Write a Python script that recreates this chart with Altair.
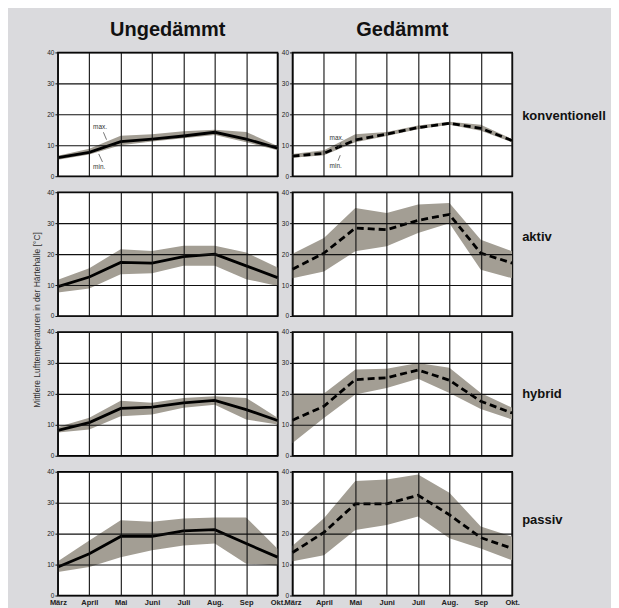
import altair as alt
import pandas as pd

months = ["März", "April", "Mai", "Juni", "Juli", "Aug.", "Sep", "Okt."]
daemmung = ["Ungedämmt", "Gedämmt"]
systeme = ["konventionell", "aktiv", "hybrid", "passiv"]

# mean / min / max per panel (°C)
u_konv_mean = [6.0, 7.7, 11.2, 12.0, 13.0, 14.2, 12.0, 9.1]
u_konv_lo = [5.3, 7.0, 10.0, 11.2, 12.3, 13.3, 11.0, 8.4]
u_konv_hi = [6.6, 8.9, 13.1, 13.6, 14.5, 15.0, 14.3, 9.8]

g_konv_mean = [6.5, 7.4, 11.7, 13.6, 15.7, 17.1, 15.5, 11.5]
g_konv_lo = [6.0, 6.8, 11.0, 13.0, 15.2, 16.6, 14.7, 11.0]
g_konv_hi = [7.2, 8.4, 13.6, 14.3, 16.4, 17.6, 16.6, 12.0]

u_aktiv_mean = [9.5, 12.6, 17.3, 17.1, 19.2, 20.0, 16.2, 12.4]
u_aktiv_lo = [7.6, 8.9, 13.5, 13.8, 16.2, 16.2, 11.9, 9.7]
u_aktiv_hi = [11.7, 15.4, 21.6, 21.0, 22.7, 22.7, 20.5, 15.7]

g_aktiv_mean = [15.1, 20.3, 28.4, 27.9, 30.9, 32.8, 20.3, 17.1]
g_aktiv_lo = [12.2, 14.4, 20.9, 22.5, 26.8, 30.0, 14.9, 12.2]
g_aktiv_hi = [20.1, 25.2, 34.9, 33.3, 36.0, 36.5, 24.6, 20.9]

u_hybrid_mean = [8.2, 10.7, 15.3, 15.7, 17.1, 17.9, 14.9, 11.4]
u_hybrid_lo = [7.5, 8.5, 12.8, 13.3, 15.5, 16.5, 11.7, 10.1]
u_hybrid_hi = [9.3, 12.3, 17.8, 17.1, 18.7, 19.2, 18.7, 12.3]

g_hybrid_mean = [11.5, 16.0, 24.6, 25.2, 27.7, 24.4, 17.6, 13.8]
g_hybrid_lo = [4.1, 12.2, 19.8, 21.9, 24.9, 20.3, 15.1, 11.7]
g_hybrid_hi = [20.1, 20.1, 27.9, 28.1, 30.0, 28.4, 20.3, 15.5]

u_passiv_mean = [9.2, 13.5, 19.1, 19.1, 20.9, 21.3, 16.8, 12.4]
u_passiv_lo = [7.6, 9.2, 12.4, 14.6, 16.2, 16.8, 10.3, 9.7]
u_passiv_hi = [11.1, 17.8, 24.3, 23.8, 24.9, 25.2, 25.2, 15.1]

g_passiv_mean = [13.9, 20.4, 29.6, 29.6, 32.4, 26.1, 18.7, 15.2]
g_passiv_lo = [11.1, 13.0, 21.2, 22.8, 25.5, 18.5, 15.2, 11.4]
g_passiv_hi = [16.1, 25.0, 37.0, 37.5, 39.1, 33.2, 22.3, 19.0]

series = {
    ("Ungedämmt", "konventionell"): (u_konv_mean, u_konv_lo, u_konv_hi),
    ("Gedämmt", "konventionell"): (g_konv_mean, g_konv_lo, g_konv_hi),
    ("Ungedämmt", "aktiv"): (u_aktiv_mean, u_aktiv_lo, u_aktiv_hi),
    ("Gedämmt", "aktiv"): (g_aktiv_mean, g_aktiv_lo, g_aktiv_hi),
    ("Ungedämmt", "hybrid"): (u_hybrid_mean, u_hybrid_lo, u_hybrid_hi),
    ("Gedämmt", "hybrid"): (g_hybrid_mean, g_hybrid_lo, g_hybrid_hi),
    ("Ungedämmt", "passiv"): (u_passiv_mean, u_passiv_lo, u_passiv_hi),
    ("Gedämmt", "passiv"): (g_passiv_mean, g_passiv_lo, g_passiv_hi),
}

# max./min. annotations in the top row
annot_u_text = ["max.", "min."]
annot_u_x = [1.12, 1.12]
annot_u_y = [16.0, 2.9]
annot_u_lx = [1.45, 1.30]
annot_u_ly = [14.2, 7.2]
annot_u_lx2 = [1.55, 1.42]
annot_u_ly2 = [11.8, 4.6]

annot_g_text = ["max.", "min."]
annot_g_x = [1.18, 1.18]
annot_g_y = [12.4, 3.4]
annot_g_lx = [1.55, 1.45]
annot_g_ly = [10.9, 5.0]
annot_g_lx2 = [1.45, 1.52]
annot_g_ly2 = [9.2, 6.8]

ytitle = "Mittlere Lufttemperaturen in der Härtehalle [°C]"
rowlabel_y = {"konventionell": 64, "aktiv": 45, "hybrid": 62, "passiv": 48}

FONT = "Liberation Sans"
BAND = "#a39e94"
BG = "#dadadd"
W, H = 220, 124

label_expr = "[" + ",".join("'%s'" % m for m in months) + "][datum.value]"


def X(field, show_x):
    return alt.X(field, scale=alt.Scale(domain=[0, 7], nice=False),
                 axis=alt.Axis(values=list(range(8)), labels=show_x, labelExpr=label_expr,
                               title=None, grid=True, ticks=False, domain=False,
                               labelOverlap=False, labelBound=False,
                               labelFontSize=7.5, labelFontWeight="bold", labelFont=FONT,
                               labelColor="#222", labelPadding=3, labelFlush=False,
                               gridColor="#111", gridWidth=1.1, zindex=1))


def Y(field):
    return alt.Y(field, scale=alt.Scale(domain=[0, 40], nice=False),
                 axis=alt.Axis(values=[0, 10, 20, 30, 40], title=None, grid=True,
                               domain=False, tickSize=3, tickColor="#111", tickWidth=1,
                               labelOverlap=False,
                               labelFontSize=6.5, labelFont=FONT, labelColor="#222",
                               labelPadding=1, gridColor="#111", gridWidth=1.1, zindex=1))


def panel(dm, sy):
    mean, lo, hi = series[(dm, sy)]
    df = pd.DataFrame({"i": list(range(len(months))), "Monat": months,
                       "mean": mean, "lo": lo, "hi": hi})
    show_x = sy == "passiv"
    base = alt.Chart(df)
    band = base.mark_area(color=BAND, opacity=1).encode(
        x=X("i:Q", show_x), y=Y("lo:Q"), y2="hi:Q")
    line_kw = dict(color="black", strokeWidth=2.8)
    if dm == "Gedämmt":
        line_kw["strokeDash"] = [7, 4]
    line = base.mark_line(**line_kw).encode(x=X("i:Q", show_x), y=Y("mean:Q"))
    layers = [band, line]

    if sy == "konventionell":
        if dm == "Ungedämmt":
            t, ax, ay, lx, ly, lx2, ly2 = (annot_u_text, annot_u_x, annot_u_y,
                                           annot_u_lx, annot_u_ly, annot_u_lx2, annot_u_ly2)
        else:
            t, ax, ay, lx, ly, lx2, ly2 = (annot_g_text, annot_g_x, annot_g_y,
                                           annot_g_lx, annot_g_ly, annot_g_lx2, annot_g_ly2)
        adf = pd.DataFrame({"t": t, "x": ax, "y": ay, "lx": lx, "ly": ly,
                            "lx2": lx2, "ly2": ly2})
        layers.append(alt.Chart(adf).mark_text(align="left", baseline="middle",
                                               fontSize=6.5, font=FONT, color="#333")
                      .encode(x=X("x:Q", show_x), y=Y("y:Q"), text="t:N"))
        layers.append(alt.Chart(adf).mark_rule(color="#555", strokeWidth=0.8)
                      .encode(x=X("lx:Q", show_x), y=Y("ly:Q"), x2="lx2:Q", y2="ly2:Q"))

    if dm == "Gedämmt":
        ldf = pd.DataFrame({"t": [sy]})
        layers.append(alt.Chart(ldf).mark_text(align="left", baseline="middle",
                                               fontSize=13, fontWeight="bold", font=FONT,
                                               color="#111")
                      .encode(text="t:N", x=alt.value(W + 10), y=alt.value(rowlabel_y[sy])))

    if dm == "Ungedämmt" and sy == "aktiv":
        tdf = pd.DataFrame({"t": [ytitle]})
        layers.append(alt.Chart(tdf).mark_text(angle=270, align="center", baseline="middle",
                                               fontSize=8.5, font=FONT, color="#333")
                      .encode(text="t:N", x=alt.value(-21), y=alt.value(128)))

    ch = alt.layer(*layers).properties(width=W, height=H)
    if sy == "konventionell":
        ch = ch.properties(title=alt.TitleParams(dm, fontSize=20, fontWeight="bold",
                                                 font=FONT, color="#111", anchor="middle",
                                                 offset=9))
    return ch


panels = []
for sy in systeme:
    for dm in daemmung:
        panels.append(panel(dm, sy))

chart = alt.concat(*panels, columns=2, spacing={"row": 16, "column": 15},
                   bounds="flush").properties(
    background=BG,
    padding={"left": 24, "top": 11, "right": 4, "bottom": 2},
).configure_view(stroke="black", strokeWidth=1.6, fill="white")

chart.save("out.html", embed_options={"renderer": "svg", "actions": False})
